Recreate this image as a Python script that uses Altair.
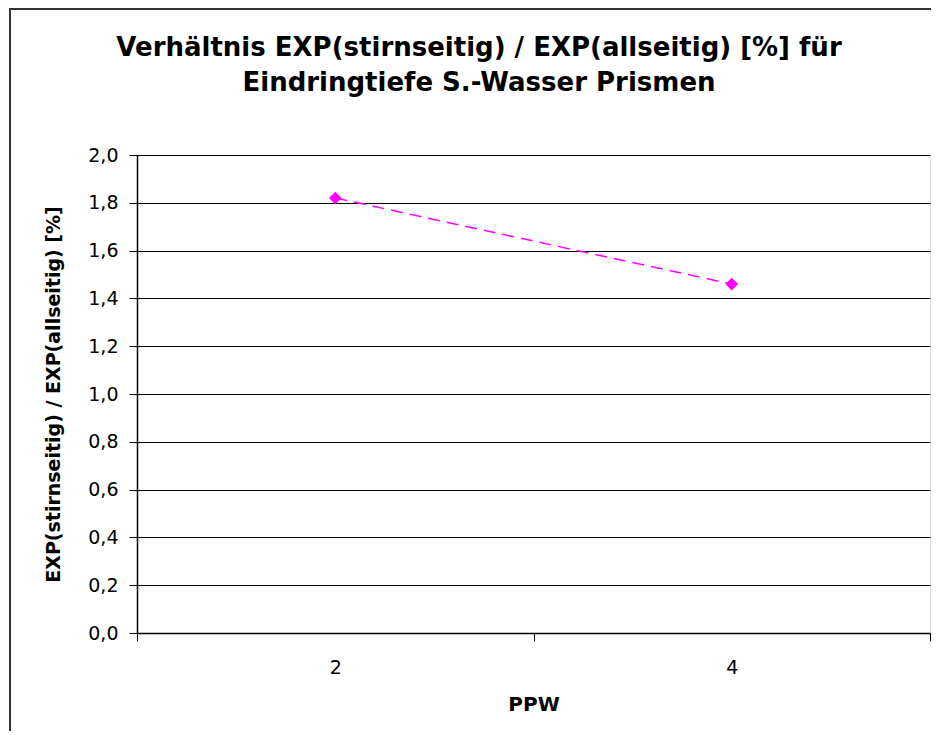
import altair as alt
import pandas as pd

categories = ["2", "4"]
values = [1.82, 1.46]
y_ticks = [0.0, 0.2, 0.4, 0.6, 0.8, 1.0, 1.2, 1.4, 1.6, 1.8, 2.0]

title_lines = ["Verhältnis EXP(stirnseitig) / EXP(allseitig) [%] für",
               "Eindringtiefe S.-Wasser Prismen"]
x_title = "PPW"
y_title = "EXP(stirnseitig) / EXP(allseitig) [%]"

df = pd.DataFrame({"PPW": categories, "val": values})

W, H = 793, 478
FONT = "DejaVu Sans"

x_enc = alt.X("PPW:N", sort=categories,
              scale=alt.Scale(paddingInner=0, paddingOuter=0),
              axis=alt.Axis(title=x_title, labelAngle=0, labelFontSize=19,
                            labelFont=FONT, labelColor="black", labelPadding=17,
                            titleFont=FONT, titleFontSize=20, titleFontWeight="bold",
                            titleColor="black", titlePadding=17,
                            tickBand="extent", tickSize=8, tickColor="black",
                            domainColor="black", domainWidth=1.5, grid=False))
y_enc = alt.Y("val:Q",
              scale=alt.Scale(domain=[0, 2.0], nice=False, zero=True),
              axis=alt.Axis(title=y_title, values=y_ticks,
                            labelExpr="replace(format(datum.value, '.1f'), '.', ',')",
                            labelFontSize=19, labelFont=FONT, labelColor="black",
                            labelPadding=11, tickSize=8, tickColor="black",
                            domainColor="black", domainWidth=1.5,
                            grid=True, gridColor="black", gridWidth=1,
                            titleFont=FONT, titleFontSize=19, titleFontWeight="bold",
                            titleColor="black", titlePadding=24))

frame = alt.Chart(df).mark_rect(fill=None, stroke="#333333", strokeWidth=2).encode(
    x=alt.value(-127), x2=alt.value(W + 40),
    y=alt.value(-146), y2=alt.value(H + 200))

title1 = alt.Chart(pd.DataFrame({"t": [title_lines[0]]})).mark_text(
    font=FONT, fontSize=26, fontWeight="bold", color="black",
    align="center", baseline="alphabetic").encode(
    text="t:N", x=alt.value(342), y=alt.value(-99))
title2 = alt.Chart(pd.DataFrame({"t": [title_lines[1]]})).mark_text(
    font=FONT, fontSize=26, fontWeight="bold", color="black",
    align="center", baseline="alphabetic").encode(
    text="t:N", x=alt.value(342), y=alt.value(-64))

line = alt.Chart(df).mark_line(color="#FF00FF", strokeWidth=1.5,
                               strokeDash=[12, 7]).encode(x=x_enc, y=y_enc)
pts = alt.Chart(df).mark_point(shape="diamond", filled=True, color="#FF00FF",
                               size=160, opacity=1).encode(x=x_enc, y=y_enc)

chart = alt.layer(line, pts, frame, title1, title2).properties(
    width=W, height=H,
    autosize=alt.AutoSizeParams(type="none"),
    padding={"left": 129, "top": 147, "right": 1, "bottom": 98},
).configure_view(stroke="#808080", strokeWidth=2).configure(background="white")

chart.save("out.html", embed_options={"renderer": "svg", "actions": False})
